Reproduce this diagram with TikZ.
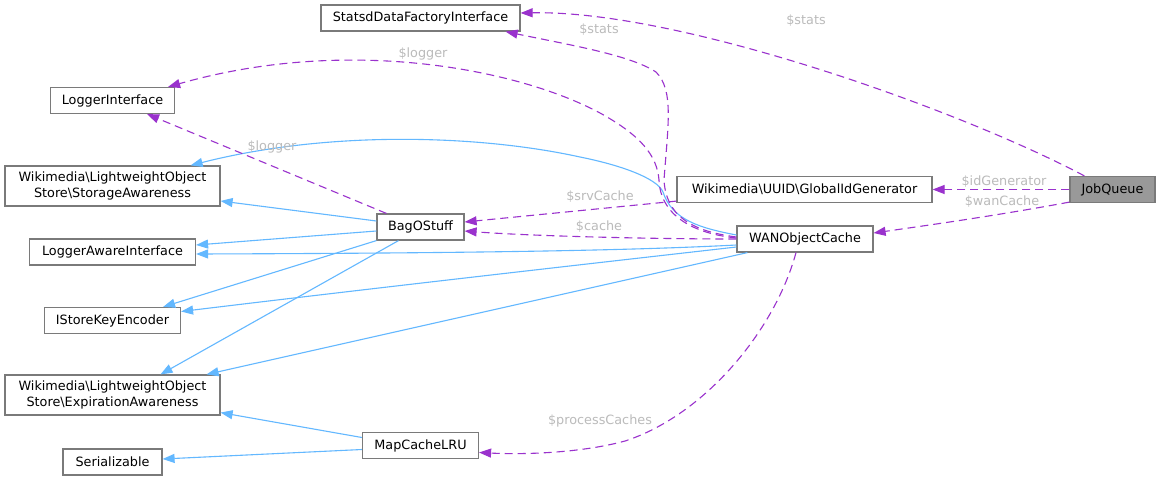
\documentclass[tikz,border=0pt]{standalone}
\usepackage{fontspec}
\setmainfont{DejaVu Sans}
\usetikzlibrary{arrows.meta,calc}
\definecolor{edgepurple}{HTML}{9A32CD}
\definecolor{edgeblue}{HTML}{63B8FF}
\definecolor{boxborder}{HTML}{7A7A7A}
\definecolor{lblgray}{HTML}{BBBBBB}
\definecolor{jqfill}{HTML}{999999}
\begin{document}
\begin{tikzpicture}[x=1pt,y=-1pt,
  font=\fontsize{12.8}{15.5}\selectfont,
  cls/.style={draw=boxborder, fill=white, line width=1.2pt, inner sep=0pt, align=center, minimum height=26pt},
  usage/.style={draw=edgepurple, line width=1.1pt, dash pattern=on 8pt off 5pt, -{Triangle[length=12pt,width=9pt]}},
  inherit/.style={draw=edgeblue, line width=1.1pt, -{Triangle[length=12pt,width=9pt]}},
  lbl/.style={text=lblgray, inner sep=0pt}
  ]
\fill[white] (0,0) rectangle (1157,480);
\useasboundingbox (0,0) rectangle (1157,480);

% nodes
\node[cls, minimum width=199pt] (statsd) at (420.5,18) {StatsdDataFactoryInterface};
\node[cls, minimum width=124pt] (logger) at (112.5,100.5) {LoggerInterface};
\node[cls, minimum width=215pt, minimum height=40pt] (storage) at (112.5,186) {Wikimedia\textbackslash{}LightweightObject\\Store\textbackslash{}StorageAwareness};
\node[cls, minimum width=87pt] (bag) at (420.5,227) {BagOStuff};
\node[cls, minimum width=166pt] (lai) at (112.5,252) {LoggerAwareInterface};
\node[cls, minimum width=136pt] (isk) at (112.5,320.5) {IStoreKeyEncoder};
\node[cls, minimum width=215pt, minimum height=40pt] (exp) at (112.5,395) {Wikimedia\textbackslash{}LightweightObject\\Store\textbackslash{}ExpirationAwareness};
\node[cls, minimum width=99pt] (ser) at (112.5,462) {Serializable};
\node[cls, minimum width=116pt] (map) at (420.5,445.5) {MapCacheLRU};
\node[cls, minimum width=255pt] (gid) at (804.5,189.5) {Wikimedia\textbackslash{}UUID\textbackslash{}GlobalIdGenerator};
\node[cls, minimum width=136pt] (wan) at (805,239) {WANObjectCache};
\node[cls, minimum width=85pt, fill=jqfill] (jq) at (1112.5,189.5) {JobQueue};

% inheritance edges
\draw[inherit] ($(wan.west)+(0,-4)$) .. controls (700,228) and (672,220) .. (663,192) .. controls (657,178) and (620,165) .. (580,157) .. controls (480,135) and (330,130) .. ($(storage.north east)+(-30,0)$);
\draw[inherit] ($(bag.west)+(0,-6)$) -- ($(storage.east)+(0,15)$);
\draw[inherit] ($(bag.west)+(0,4)$) -- ($(lai.east)+(0,-7)$);
\draw[inherit] ($(wan.west)+(0,6)$) .. controls (640,250) and (500,253) .. ($(lai.east)+(0,2)$);
\draw[inherit] (bag.south west) -- ($(isk.north east)+(-18,0)$);
\draw[inherit] ($(wan.west)+(0,8)$) .. controls (640,258) and (400,285) .. ($(isk.east)+(0,-9)$);
\draw[inherit] ($(bag.south)+(-22,0)$) -- ($(exp.north)+(48,0)$);
\draw[inherit] ($(wan.south west)+(11,0)$) -- ($(exp.north east)+(-14,0)$);
\draw[inherit] ($(map.west)+(0,-8)$) -- ($(exp.south east)+(0,-3)$);
\draw[inherit] ($(map.west)+(0,4)$) -- ($(ser.east)+(0,-3)$);

% usage edges
\draw[usage] ($(jq.north west)+(15,0)$) .. controls (960,110) and (680,10) .. ($(statsd.east)+(0,-5)$);
\draw[usage] ($(wan.west)+(0,-2)$) .. controls (690,231) and (666,215) .. (664,180) .. controls (668,125) and (674,90) .. (656,72) .. controls (630,55) and (570,45) .. ($(statsd.south east)+(-15,0)$);
\draw[usage] ($(wan.west)+(0,-1)$) .. controls (688,233) and (660,212) .. (659,180) .. controls (657,155) and (640,135) .. (600,113) .. controls (520,70) and (350,35) .. ($(logger.north east)+(-7,0)$);
\draw[usage] ($(bag.north west)+(10,0)$) -- ($(logger.south east)+(-28,0)$);
\draw[usage] ($(gid.south west)+(0,-2)$) -- ($(bag.east)+(0,-5)$);
\draw[usage] (wan.west) .. controls (650,239) and (530,236) .. ($(bag.east)+(0,4)$);
\draw[usage] (jq.west) -- (gid.east);
\draw[usage] ($(jq.south west)+(0,-1)$) .. controls (1000,215) and (930,225) .. ($(wan.east)+(0,-6)$);
\draw[usage] ($(wan.south)+(-9,0)$) .. controls (775,330) and (705,415) .. (625,441) .. controls (585,452) and (530,455) .. ($(map.east)+(0,7)$);

% labels
\node[lbl] (ls1) at (806,21) {\$stats};
\node[lbl] (ls2) at (599,30) {\$stats};
\node[lbl] (ll1) at (423,54) {\$logger};
\node[lbl] (ll2) at (272,147) {\$logger};
\node[lbl] (lsrv) at (600,197) {\$srvCache};
\node[lbl] (lcache) at (599,227) {\$cache};
\node[lbl] (lid) at (1004,182) {\$idGenerator};
\node[lbl] (lwan) at (1002,202) {\$wanCache};
\node[lbl] (lproc) at (600,421) {\$processCaches};
\end{tikzpicture}
\end{document}
